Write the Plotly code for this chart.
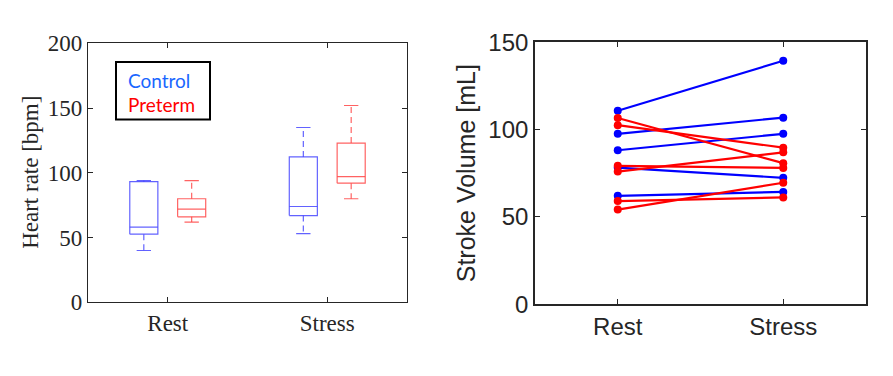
import plotly.graph_objects as go

# ---------------- data ----------------
conditions = ["Rest", "Stress"]

# Heart rate box statistics (bpm), per condition [Rest, Stress]
control_low = [40, 53]
control_q1 = [52.6, 67]
control_median = [58, 74]
control_q3 = [93.2, 112.3]
control_high = [94, 135]

preterm_low = [62, 80]
preterm_q1 = [66, 92]
preterm_median = [72, 97]
preterm_q3 = [80, 123]
preterm_high = [94, 152]

# Stroke volume per subject (mL): [Rest, Stress]
control_sv = [
    [110.8, 139.5],
    [97.6, 106.9],
    [88.2, 97.6],
    [78.3, 72.4],
    [62.1, 64.3],
]
preterm_sv = [
    [106.7, 80.8],
    [102.6, 89.7],
    [76.0, 87.0],
    [79.3, 78.1],
    [59.1, 61.2],
    [54.2, 69.6],
]

hr_ticks = [0, 50, 100, 150, 200]
sv_ticks = [0, 50, 100, 150]

# ---------------- styling ----------------
BOX_BLUE = "rgba(70,70,255,0.85)"
BOX_RED = "rgba(255,70,70,0.85)"
AX = "#262626"
SERIF = "Liberation Serif, Times New Roman, serif"
SANS = "Liberation Sans, Arial, sans-serif"

fig = go.Figure()

def add_boxes(low, q1, med, q3, high, offset, color):
    hw = 0.088
    cw = 0.045
    for i in range(len(conditions)):
        c = i + 1 + offset
        fig.add_trace(go.Scatter(
            x=[c - hw, c + hw, c + hw, c - hw, c - hw],
            y=[q1[i], q1[i], q3[i], q3[i], q1[i]],
            mode="lines", line=dict(color=color, width=1.2),
            xaxis="x", yaxis="y", showlegend=False, hoverinfo="skip"))
        fig.add_trace(go.Scatter(
            x=[c - hw, c + hw], y=[med[i], med[i]],
            mode="lines", line=dict(color=color, width=1.2),
            xaxis="x", yaxis="y", showlegend=False, hoverinfo="skip"))
        fig.add_trace(go.Scatter(
            x=[c, c, None, c, c], y=[q3[i], high[i], None, q1[i], low[i]],
            mode="lines", line=dict(color=color, width=1.2, dash="6px,4px"),
            xaxis="x", yaxis="y", showlegend=False, hoverinfo="skip"))
        fig.add_trace(go.Scatter(
            x=[c - cw, c + cw, None, c - cw, c + cw],
            y=[high[i], high[i], None, low[i], low[i]],
            mode="lines", line=dict(color=color, width=1.2),
            xaxis="x", yaxis="y", showlegend=False, hoverinfo="skip"))

add_boxes(control_low, control_q1, control_median, control_q3, control_high, -0.15, BOX_BLUE)
add_boxes(preterm_low, preterm_q1, preterm_median, preterm_q3, preterm_high, 0.15, BOX_RED)

xpos = [1, 2]
for s in control_sv:
    fig.add_trace(go.Scatter(
        x=xpos, y=s, mode="lines+markers",
        line=dict(color="#0000ff", width=2.2),
        marker=dict(color="#0000ff", size=8),
        xaxis="x2", yaxis="y2", showlegend=False))
for s in preterm_sv:
    fig.add_trace(go.Scatter(
        x=xpos, y=s, mode="lines+markers",
        line=dict(color="#ff0000", width=2.2),
        marker=dict(color="#ff0000", size=8),
        xaxis="x2", yaxis="y2", showlegend=False))

axis_common = dict(showgrid=False, zeroline=False, showline=True, linecolor=AX,
                   mirror="allticks", ticks="inside", ticklen=5, tickcolor=AX)

# the page places the figure 8 px in from the top-left corner
W, H = 893, 376
OFF = 8
def px(x):
    return (x - OFF) / W
def py(y):
    return (H - (y - OFF)) / H

fig.update_layout(
    width=W, height=H,
    margin=dict(l=0, r=0, t=0, b=0),
    paper_bgcolor="white", plot_bgcolor="white",
    xaxis=dict(domain=[px(88), px(407)], range=[0.5, 2.5],
               tickvals=[1, 2], ticktext=conditions,
               tickfont=dict(family=SERIF, size=23, color=AX),
               linewidth=1.2, anchor="y", **axis_common),
    yaxis=dict(domain=[py(310), py(31)], range=[0, 200],
               tickvals=hr_ticks, tickfont=dict(family=SERIF, size=23, color=AX),
               linewidth=1.2, anchor="x", **axis_common),
    xaxis2=dict(domain=[px(535), px(866)], range=[0.5, 2.5],
                tickvals=[1, 2], ticktext=conditions,
                tickfont=dict(family=SANS, size=24, color=AX),
                linewidth=1.6, anchor="y2", **axis_common),
    yaxis2=dict(domain=[py(312), py(30)], range=[0, 150],
                tickvals=sv_ticks, tickfont=dict(family=SANS, size=24, color=AX),
                linewidth=1.6, anchor="x2", **axis_common),
)

fig.add_annotation(text="Heart rate [bpm]", textangle=-90, x=px(31), y=py(170.5),
                   xref="paper", yref="paper", xanchor="center", yanchor="middle",
                   showarrow=False, font=dict(family=SERIF, size=23, color=AX))
fig.add_annotation(text="Stroke Volume [mL]", textangle=-90, x=px(466), y=py(171),
                   xref="paper", yref="paper", xanchor="center", yanchor="middle",
                   showarrow=False, font=dict(family=SANS, size=25, color=AX))

fig.add_shape(type="rect", xref="paper", yref="paper",
              x0=px(116), x1=px(210), y0=py(113), y1=py(51),
              line=dict(color="black", width=2), fillcolor="white")
fig.add_annotation(text="Control", x=px(126), y=py(71), xref="paper", yref="paper",
                   xanchor="left", yanchor="middle", showarrow=False,
                   font=dict(family="Lato, Carlito, sans-serif", size=19, color="#1a66ff"))
fig.add_annotation(text="Preterm", x=px(126), y=py(97), xref="paper", yref="paper",
                   xanchor="left", yanchor="middle", showarrow=False,
                   font=dict(family="Lato, Carlito, sans-serif", size=19, color="#ff0000"))

fig.write_html("out.html")
